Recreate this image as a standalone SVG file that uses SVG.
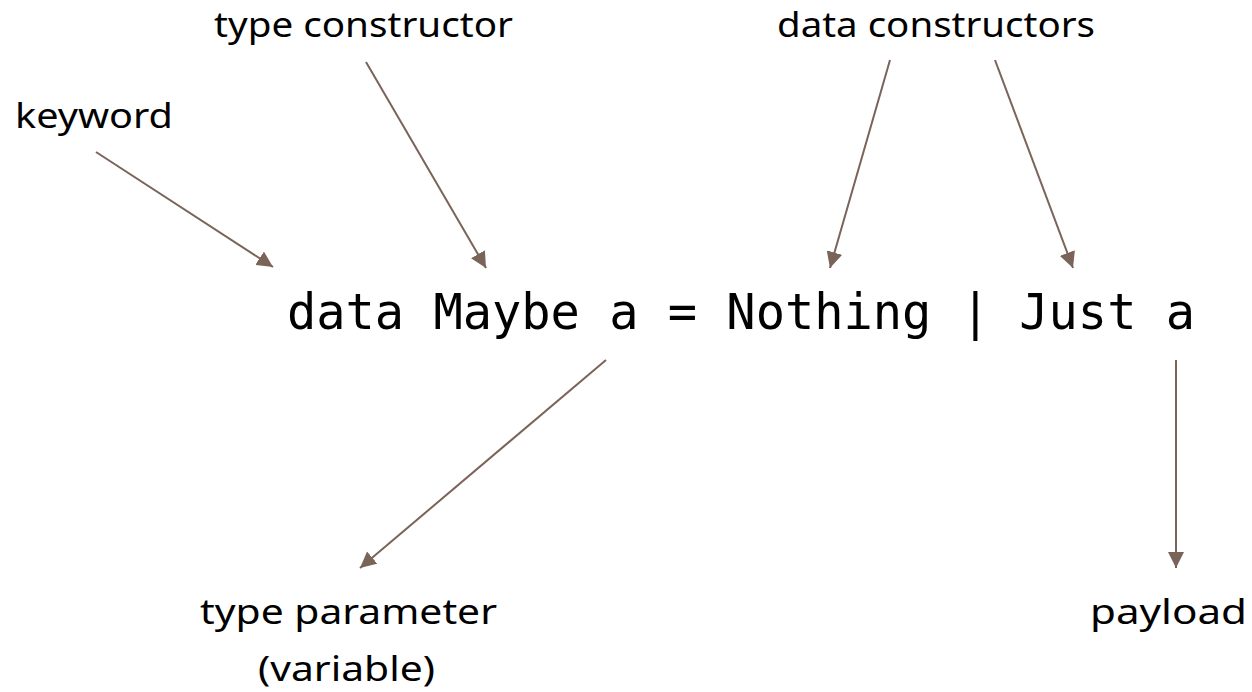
<svg xmlns="http://www.w3.org/2000/svg" width="1252" height="692" viewBox="0 0 1252 692">
  <style>
    .label { font-family: "Noto Sans", "DejaVu Sans", sans-serif; font-size: 34px; fill: #000; }
    .code { font-family: "DejaVu Sans Mono", "Liberation Mono", monospace; font-size: 49px; fill: #000; }
    .conn { stroke: #7a6359; stroke-width: 2; fill: none; marker-end: url(#head); }
  </style>
  <defs>
    <marker id="head" viewBox="0 0 10 10" refX="10" refY="5" markerWidth="8" markerHeight="8" markerUnits="strokeWidth" orient="auto">
      <path d="M0,0 L10,5 L0,10 z" fill="#7a6359"/>
    </marker>
  </defs>

  <rect width="1252" height="692" fill="#ffffff"/>

  <g id="code-line">
    <text class="code" x="287" y="329" textLength="908" lengthAdjust="spacingAndGlyphs">data Maybe a = Nothing | Just a</text>
  </g>

  <g id="keyword">
    <text class="label" x="15" y="128" textLength="158" lengthAdjust="spacingAndGlyphs">keyword</text>
  </g>
  <g id="type-constructor">
    <text class="label" x="214" y="37" textLength="299" lengthAdjust="spacingAndGlyphs">type constructor</text>
  </g>
  <g id="data-constructors">
    <text class="label" x="777" y="37" textLength="318" lengthAdjust="spacingAndGlyphs">data constructors</text>
  </g>
  <g id="type-parameter">
    <text class="label" x="200" y="624" textLength="297" lengthAdjust="spacingAndGlyphs">type parameter</text>
    <text class="label" x="258" y="681" textLength="177" lengthAdjust="spacingAndGlyphs">(variable)</text>
  </g>
  <g id="payload">
    <text class="label" x="1090" y="624" textLength="157" lengthAdjust="spacingAndGlyphs">payload</text>
  </g>

  <g id="connectors">
    <line class="conn" x1="96" y1="152" x2="273" y2="267"/>
    <line class="conn" x1="366" y1="62" x2="486" y2="268"/>
    <line class="conn" x1="890" y1="60" x2="830" y2="268"/>
    <line class="conn" x1="995" y1="60" x2="1073" y2="268"/>
    <line class="conn" x1="606" y1="360" x2="360" y2="568"/>
    <line class="conn" x1="1176" y1="360" x2="1176" y2="568"/>
  </g>
</svg>
